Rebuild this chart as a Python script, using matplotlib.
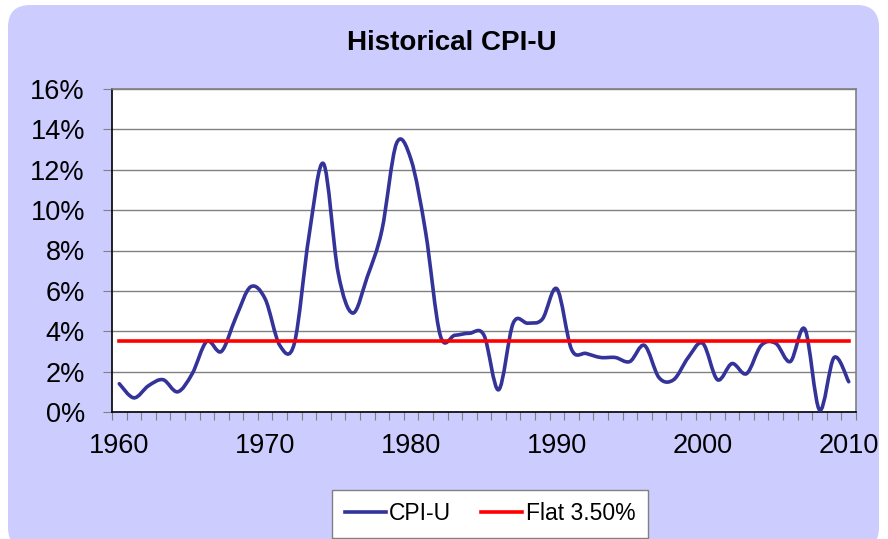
"""Historical CPI-U line chart (Excel-style smoothed line vs. flat 3.5%)."""

import matplotlib

matplotlib.use("Agg")
matplotlib.rcParams["font.family"] = ["Liberation Sans", "DejaVu Sans"]
import matplotlib.pyplot as plt  # noqa: E402
import numpy as np  # noqa: E402
from matplotlib.lines import Line2D  # noqa: E402
from matplotlib.patches import FancyBboxPatch, PathPatch  # noqa: E402
from matplotlib.path import Path  # noqa: E402

YEARS = list(range(1960, 2011))
CPI_U = [
    1.4, 0.7, 1.3, 1.6, 1.0, 1.9, 3.5, 3.0, 4.7, 6.2,
    5.6, 3.3, 3.4, 8.7, 12.3, 6.9, 4.9, 6.7, 9.0, 13.3,
    12.5, 8.9, 3.8, 3.8, 3.9, 3.8, 1.1, 4.4, 4.4, 4.6,
    6.1, 3.1, 2.9, 2.7, 2.7, 2.5, 3.3, 1.7, 1.6, 2.7,
    3.4, 1.6, 2.4, 1.9, 3.3, 3.4, 2.5, 4.1, 0.1, 2.7,
    1.5,
]
FLAT = 3.5
Y_TICKS = [0, 2, 4, 6, 8, 10, 12, 14, 16]
X_LABEL_YEARS = [1960, 1970, 1980, 1990, 2000, 2010]

BG = "#CCCCFF"
NAVY = "#333399"
RED = "#FF0000"
W, H = 888, 539


def smooth_path(x, y):
    # Excel-style smoothed line: cubic Bezier segments with Catmull-Rom handles
    pts = np.column_stack([x, y]).astype(float)
    n = len(pts)
    verts = [pts[0]]
    codes = [Path.MOVETO]
    for i in range(n - 1):
        p0 = pts[i - 1] if i > 0 else pts[i]
        p1, p2 = pts[i], pts[i + 1]
        p3 = pts[i + 2] if i + 2 < n else pts[i + 1]
        verts += [p1 + (p2 - p0) / 6.0, p2 - (p3 - p1) / 6.0, p2]
        codes += [Path.CURVE4] * 3
    return Path(verts, codes)


fig = plt.figure(figsize=(W / 100, H / 100), dpi=100)
fig.patch.set_facecolor("white")

# rounded lavender chart area
bg = FancyBboxPatch(
    (8 / W, -0.02), (W - 9) / W - 8 / W, 1 - 5 / H + 0.02,
    boxstyle="round,pad=0,rounding_size=0.025",
    transform=fig.transFigure, facecolor=BG, edgecolor="none",
    mutation_aspect=W / H, zorder=-10,
)
fig.patches.append(bg)

left, right, top, bottom = 112, 856, 89, 412
ax = fig.add_axes([left / W, 1 - bottom / H, (right - left) / W, (bottom - top) / H])
ax.set_facecolor("white")

x = np.arange(len(YEARS))
ax.add_patch(PathPatch(smooth_path(x, CPI_U), facecolor="none", edgecolor=NAVY,
                       linewidth=2.6, capstyle="round", joinstyle="round", zorder=3))
ax.plot([x[0], x[-1]], [FLAT, FLAT], color=RED, linewidth=2.6, zorder=4)

ax.set_xlim(-0.5, len(YEARS) - 0.5)
ax.set_ylim(0, 16)

ax.set_yticks(Y_TICKS)
ax.set_yticklabels([f"{v}%" for v in Y_TICKS])
ax.yaxis.grid(True, color="#808080", linewidth=1.0)
ax.set_axisbelow(True)

label_pos = [YEARS.index(yr) for yr in X_LABEL_YEARS]
ax.set_xticks(label_pos)
ax.set_xticklabels([str(yr) for yr in X_LABEL_YEARS])
ax.set_xticks(np.arange(len(YEARS) + 1) - 0.5, minor=True)
ax.tick_params(axis="x", which="major", length=0, pad=15, labelsize=19.5)
ax.tick_params(axis="x", which="minor", length=6, width=0.8, color="#808080")
ax.tick_params(axis="y", length=6.5, width=0.8, color="#808080", pad=13, labelsize=19.5)

for side in ("top", "right"):
    ax.spines[side].set_color("#808080")
    ax.spines[side].set_linewidth(1.2)
for side in ("left", "bottom"):
    ax.spines[side].set_color("black")
    ax.spines[side].set_linewidth(1.2)

fig.text(452 / W, 1 - 43 / H, "Historical CPI-U", ha="center", va="center",
         fontsize=20, fontweight="bold")

handles = [
    Line2D([], [], color=NAVY, linewidth=2.6),
    Line2D([], [], color=RED, linewidth=2.6),
]
leg = fig.legend(handles, ["CPI-U", "Flat 3.50%"], loc="center",
                 bbox_to_anchor=(490 / W, 1 - 514 / H), ncol=2, fontsize=16.5,
                 frameon=True, fancybox=False, framealpha=1, edgecolor="#808080",
                 handlelength=1.8, handletextpad=0.15, columnspacing=1.3,
                 borderpad=0.55, borderaxespad=0)
leg.get_frame().set_linewidth(1.0)

fig.savefig("out.png", dpi=100)
